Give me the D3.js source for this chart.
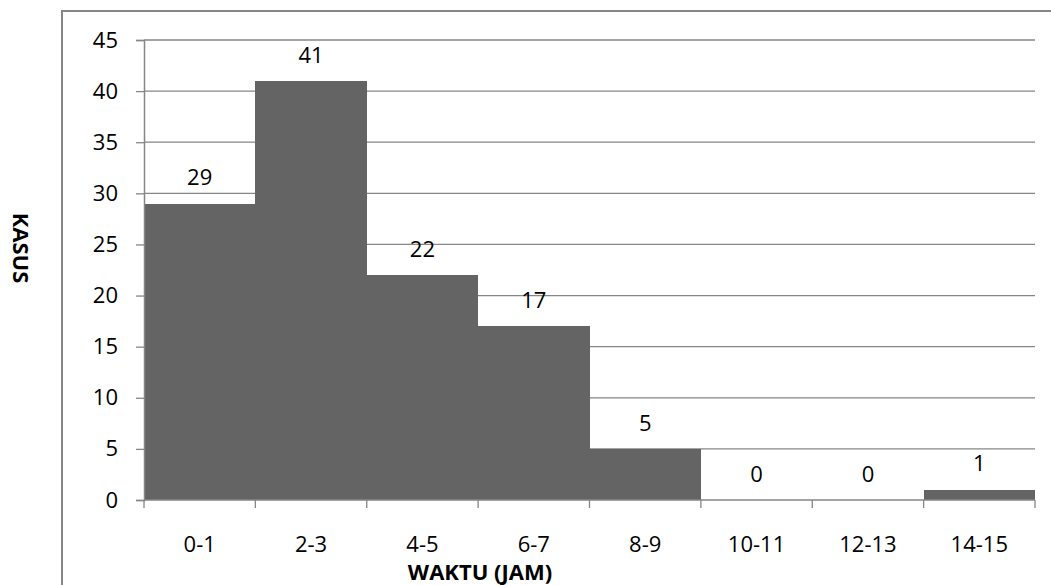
<!DOCTYPE html>
<html>
<head>
<meta charset="utf-8">
<script src="https://cdn.jsdelivr.net/npm/d3@7"></script>
<style>
  html, body { margin: 0; padding: 0; background: #fff; }
  svg { display: block; }
  text { font-family: "Open Sans", "Liberation Sans", sans-serif; fill: #000; }
</style>
</head>
<body>
<svg id="chart" width="1051" height="585"></svg>
<script>
const categories = ["0-1", "2-3", "4-5", "6-7", "8-9", "10-11", "12-13", "14-15"];
const values = [29, 41, 22, 17, 5, 0, 0, 1];
const yTicks = [0, 5, 10, 15, 20, 25, 30, 35, 40, 45];
const xTitle = "WAKTU (JAM)";
const yTitle = "KASUS";

(function () {
const svg = d3.select("#chart");
const pLeft = 144, pRight = 1035, pTop = 40, pBottom = 500;
const grey = "#868686";

// outer frame
svg.append("rect").attr("x", 62).attr("y", 11).attr("width", 1100).attr("height", 700)
  .attr("fill", "none").attr("stroke", grey).attr("stroke-width", 2);

const x = d3.scaleBand().domain(categories).range([pLeft, pRight]).padding(0);
const y = d3.scaleLinear().domain([0, 45]).range([pBottom, pTop]);

// gridlines
svg.append("g").selectAll("line").data(yTicks.filter(d => d > 0)).join("line")
  .attr("x1", pLeft).attr("x2", pRight)
  .attr("y1", d => y(d)).attr("y2", d => y(d))
  .attr("stroke", grey).attr("stroke-width", 1.3);

// bars
svg.append("g").attr("shape-rendering", "crispEdges").selectAll("rect").data(values).join("rect")
  .attr("x", (d, i) => Math.round(x(categories[i])))
  .attr("width", (d, i) => Math.round(x(categories[i]) + x.bandwidth()) - Math.round(x(categories[i])))
  .attr("y", d => y(d))
  .attr("height", d => y(0) - y(d))
  .attr("fill", "#646464");

// y axis
const yAxis = d3.axisLeft(y).tickValues(yTicks).tickSize(8).tickPadding(18);
const gy = svg.append("g").attr("transform", `translate(${pLeft},0)`).call(yAxis);
gy.select(".domain").attr("stroke", grey).attr("stroke-width", 1.5);
gy.selectAll(".tick line").attr("stroke", grey).attr("stroke-width", 1.3);
gy.selectAll(".tick text").attr("font-size", 22).attr("font-family", "Open Sans, Liberation Sans, sans-serif").attr("fill", "#000");

// x axis
const xAxis = d3.axisBottom(x).tickSize(0).tickPadding(36);
const gx = svg.append("g").attr("transform", `translate(0,${pBottom})`).call(xAxis);
gx.select(".domain").remove();
gx.selectAll(".tick text").attr("font-size", 22).attr("font-family", "Open Sans, Liberation Sans, sans-serif").attr("fill", "#000");
svg.append("line").attr("x1", pLeft).attr("x2", pRight).attr("y1", pBottom).attr("y2", pBottom)
  .attr("stroke", grey).attr("stroke-width", 1.5);
// boundary ticks
const bounds = categories.map(c => x(c)).concat([x(categories[categories.length - 1]) + x.bandwidth()]);
svg.append("g").selectAll("line").data(bounds).join("line")
  .attr("x1", d => d).attr("x2", d => d).attr("y1", pBottom).attr("y2", pBottom + 8)
  .attr("stroke", grey).attr("stroke-width", 1.3);

// data labels
svg.append("g").selectAll("text").data(values).join("text")
  .attr("x", (d, i) => x(categories[i]) + x.bandwidth() / 2)
  .attr("y", d => y(d) - 26)
  .attr("dy", "0.35em")
  .attr("text-anchor", "middle")
  .attr("font-size", 22)
  .text(d => d);

// axis titles
svg.append("text").attr("x", 480).attr("y", 572).attr("dy", "0.35em")
  .attr("text-anchor", "middle").attr("font-size", 22).attr("font-weight", "bold").text(xTitle);
svg.append("text").attr("transform", "translate(21,248) rotate(90)").attr("dy", "0.35em")
  .attr("text-anchor", "middle").attr("font-size", 22).attr("font-weight", "bold").text(yTitle);
})();
</script>
</body>
</html>
